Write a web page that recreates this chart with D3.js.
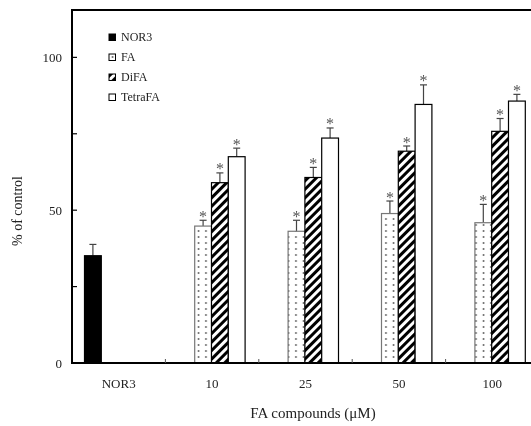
<!DOCTYPE html>
<html>
<head>
<meta charset="utf-8">
<script src="https://d3js.org/d3.v7.min.js"></script>
<style>
  body { margin: 0; background: white; }
  text { font-family: "Liberation Serif", "DejaVu Serif", serif; fill: #222; }
</style>
</head>
<body>
<svg id="plot"></svg>
<script>
// data
var groups = ["NOR3", "10", "25", "50", "100"];
var series = ["NOR3", "FA", "DiFA", "TetraFA"];
var nor3Val = [35.1];
var nor3Err = [3.7];
var faVal = [44.8, 43.1, 48.9, 45.9];
var faErr = [1.9, 3.6, 4.1, 6.0];
var difaVal = [59.0, 60.7, 69.3, 75.8];
var difaErr = [3.2, 3.3, 1.7, 4.2];
var tetraVal = [67.5, 73.6, 84.6, 85.7];
var tetraErr = [2.8, 3.3, 6.4, 2.2];
var yTicks = [0, 50, 100];
var yMinor = [25, 75];

var width = 531, height = 426;
var plotLeft = 72, plotTop = 10, plotBottom = 363;

var root = d3.select("#plot").attr("width", width).attr("height", height);
var defs = root.append("defs");

// grey-only filter, the whole figure is black and white
defs.append("filter").attr("id", "grey")
  .append("feColorMatrix").attr("type", "saturate").attr("values", 0);

var svg = root.append("g").attr("filter", "url(#grey)");
svg.append("rect").attr("width", width).attr("height", height).attr("fill", "white");

// dotted fill for FA
var dots = defs.append("pattern").attr("id", "dots")
  .attr("patternUnits", "userSpaceOnUse").attr("width", 7.5).attr("height", 6);
dots.append("rect").attr("width", 7.5).attr("height", 6).attr("fill", "white");
dots.append("circle").attr("cx", 3.5).attr("cy", 3).attr("r", 0.9).attr("fill", "#555");

// diagonal stripes for DiFA
var stripes = defs.append("pattern").attr("id", "stripes")
  .attr("patternUnits", "userSpaceOnUse").attr("width", 6).attr("height", 6)
  .attr("patternTransform", "rotate(45)");
stripes.append("rect").attr("width", 6).attr("height", 6).attr("fill", "white");
stripes.append("rect").attr("width", 3).attr("height", 6).attr("fill", "black");

var fills = {"NOR3": "black", "FA": "url(#dots)", "DiFA": "url(#stripes)", "TetraFA": "white"};
var strokes = {"NOR3": "black", "FA": "#777", "DiFA": "black", "TetraFA": "black"};

var x = d3.scaleBand().domain(groups).range([plotLeft, plotLeft + 5 * 93.4]);
var xs = d3.scaleBand().domain(series).range([12.5, 12.5 + 4 * 16.8]);
var y = d3.scaleLinear().domain([0, 115.5]).range([plotBottom, plotTop]);

// build bar table
var bars = [{g: "NOR3", s: "NOR3", v: nor3Val[0], e: nor3Err[0], star: false}];
groups.slice(1).forEach(function (g, i) {
  bars.push({g: g, s: "FA", v: faVal[i], e: faErr[i], star: true});
  bars.push({g: g, s: "DiFA", v: difaVal[i], e: difaErr[i], star: true});
  bars.push({g: g, s: "TetraFA", v: tetraVal[i], e: tetraErr[i], star: true});
});

function cx(d) { return x(d.g) + xs(d.s) + xs.bandwidth() / 2; }

var bg = svg.append("g").selectAll("g").data(bars).enter().append("g");

// error bars (upper only)
bg.append("line")
  .attr("x1", cx).attr("x2", cx)
  .attr("y1", function (d) { return y(d.v); })
  .attr("y2", function (d) { return y(d.v + d.e); })
  .attr("stroke", "#444").attr("stroke-width", 1.2);
bg.append("line")
  .attr("x1", function (d) { return cx(d) - 3.5; })
  .attr("x2", function (d) { return cx(d) + 3.5; })
  .attr("y1", function (d) { return y(d.v + d.e); })
  .attr("y2", function (d) { return y(d.v + d.e); })
  .attr("stroke", "#444").attr("stroke-width", 1.2);

bg.append("rect")
  .attr("x", function (d) { return x(d.g) + xs(d.s); })
  .attr("y", function (d) { return y(d.v); })
  .attr("width", xs.bandwidth())
  .attr("height", function (d) { return plotBottom - y(d.v); })
  .attr("fill", function (d) { return fills[d.s]; })
  .attr("stroke", function (d) { return strokes[d.s]; })
  .attr("stroke-width", 1.2);

// significance stars
svg.append("g").selectAll("text").data(bars.filter(function (d) { return d.star; }))
  .enter().append("text")
  .attr("x", cx)
  .attr("y", function (d) { return y(d.v + d.e) + 1.5; })
  .attr("text-anchor", "middle")
  .attr("font-size", 16)
  .style("fill", "#555")
  .text("*");

// frame: left axis, bottom axis, top border
svg.append("line").attr("x1", plotLeft).attr("x2", width).attr("y1", plotTop).attr("y2", plotTop)
  .attr("stroke", "black").attr("stroke-width", 2);
svg.append("line").attr("x1", plotLeft).attr("x2", plotLeft).attr("y1", plotTop - 1).attr("y2", plotBottom + 1)
  .attr("stroke", "black").attr("stroke-width", 2);
svg.append("line").attr("x1", plotLeft - 1).attr("x2", width).attr("y1", plotBottom).attr("y2", plotBottom)
  .attr("stroke", "black").attr("stroke-width", 2);

// y ticks (inward)
svg.append("g").selectAll("line").data(yTicks.concat(yMinor)).enter().append("line")
  .attr("x1", plotLeft).attr("x2", plotLeft + 5)
  .attr("y1", function (d) { return y(d); }).attr("y2", function (d) { return y(d); })
  .attr("stroke", "black").attr("stroke-width", 1.2);
svg.append("g").selectAll("text").data(yTicks).enter().append("text")
  .attr("x", plotLeft - 10).attr("y", function (d) { return y(d) + 4.5; })
  .attr("text-anchor", "end").attr("font-size", 13)
  .text(function (d) { return d; });

// x ticks between groups (inward)
svg.append("g").selectAll("line").data(groups.slice(1)).enter().append("line")
  .attr("x1", function (d) { return x(d); }).attr("x2", function (d) { return x(d); })
  .attr("y1", plotBottom).attr("y2", plotBottom - 4)
  .attr("stroke", "#555").attr("stroke-width", 1);
svg.append("g").selectAll("text").data(groups).enter().append("text")
  .attr("x", function (d) { return x(d) + x.bandwidth() / 2; })
  .attr("y", 388)
  .attr("text-anchor", "middle").attr("font-size", 13)
  .text(function (d) { return d; });

// axis titles
svg.append("text")
  .attr("transform", "translate(22,211)rotate(-90)")
  .attr("text-anchor", "middle").attr("font-size", 14)
  .text("% of control");
svg.append("text")
  .attr("x", 313).attr("y", 418)
  .attr("text-anchor", "middle").attr("font-size", 15)
  .text("FA compounds (\u03bcM)");

// legend
var legend = svg.append("g").selectAll("g").data(series).enter().append("g")
  .attr("transform", function (d, i) { return "translate(109," + (34 + i * 20) + ")"; });
legend.append("rect")
  .attr("width", 6.5).attr("height", 6.5)
  .attr("fill", function (d) { return fills[d]; })
  .attr("stroke", "black").attr("stroke-width", 1);
legend.append("text")
  .attr("x", 12).attr("y", 7)
  .attr("font-size", 12)
  .text(function (d) { return d; });
</script>
</body>
</html>
